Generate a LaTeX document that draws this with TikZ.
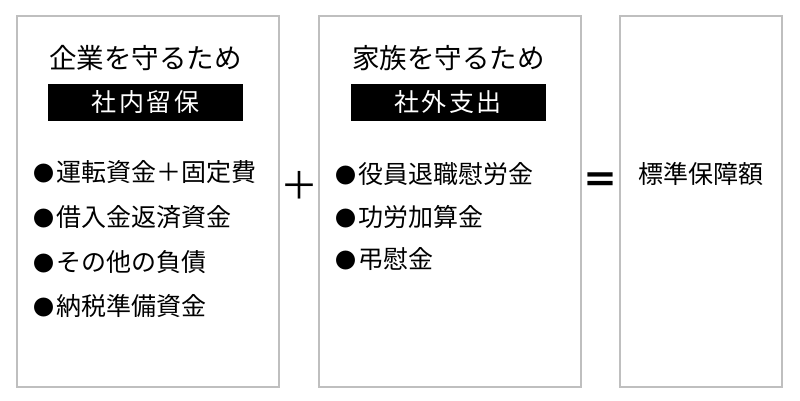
\documentclass[tikz,border=0pt]{standalone}
\usepackage{fontspec}
\setmainfont{Noto Sans CJK JP}
\newfontfamily\jpl[LetterSpace=10]{Noto Sans CJK JP}
\definecolor{boxgray}{HTML}{BFBFBF}
\newcommand{\blt}{{\fontsize{21}{28}\selectfont ●}\hspace{2pt}}
\begin{document}
\begin{tikzpicture}[x=1pt,y=-1pt,
  panel/.style={draw=boxgray,line width=1.5pt,fill=white,inner sep=0pt},
  title/.style={font=\fontsize{27.5}{32}\selectfont,inner sep=0pt},
  tag/.style={fill=black,text=white,minimum width=195pt,minimum height=37pt,inner sep=0pt,font=\jpl\fontsize{25}{30}\selectfont},
  item/.style={anchor=west,inner sep=0pt,font=\fontsize{25}{28}\selectfont},
  op/.style={inner sep=0pt,font=\fontsize{38}{40}\selectfont}]
\useasboundingbox (0,0) rectangle (800,400);
\fill[white] (0,0) rectangle (800,400);
\node[panel,minimum width=262pt,minimum height=371pt] (left) at (148,201.5) {};
\node[panel,minimum width=262pt,minimum height=371pt] (mid) at (450,201.5) {};
\node[panel,minimum width=162pt,minimum height=371pt] (right) at (701,201.5) {};
\node[title] (t1) at (145.5,58) {企業を守るため};
\node[tag] (g1) at (145.5,102.5) {社内留保};
\node[item] (a1) at (33,172) {\blt 運転資金＋固定費};
\node[item] (a2) at (33,217) {\blt 借入金返済資金};
\node[item] (a3) at (33,262) {\blt その他の負債};
\node[item] (a4) at (33,306) {\blt 納税準備資金};
\node[title] (t2) at (448.5,58) {家族を守るため};
\node[tag] (g2) at (448,102.5) {社外支出};
\node[item] (b1) at (335,174) {\blt 役員退職慰労金};
\node[item] (b2) at (335,217) {\blt 功労加算金};
\node[item] (b3) at (335,259) {\blt 弔慰金};
\node[item,anchor=center] (r1) at (700.5,174) {標準保障額};
\node[op] (plus) at (299,185) {＋};
\node[op,font=\bfseries\fontsize{36}{40}\selectfont] (eq) at (600.5,183) {＝};
\end{tikzpicture}
\end{document}
